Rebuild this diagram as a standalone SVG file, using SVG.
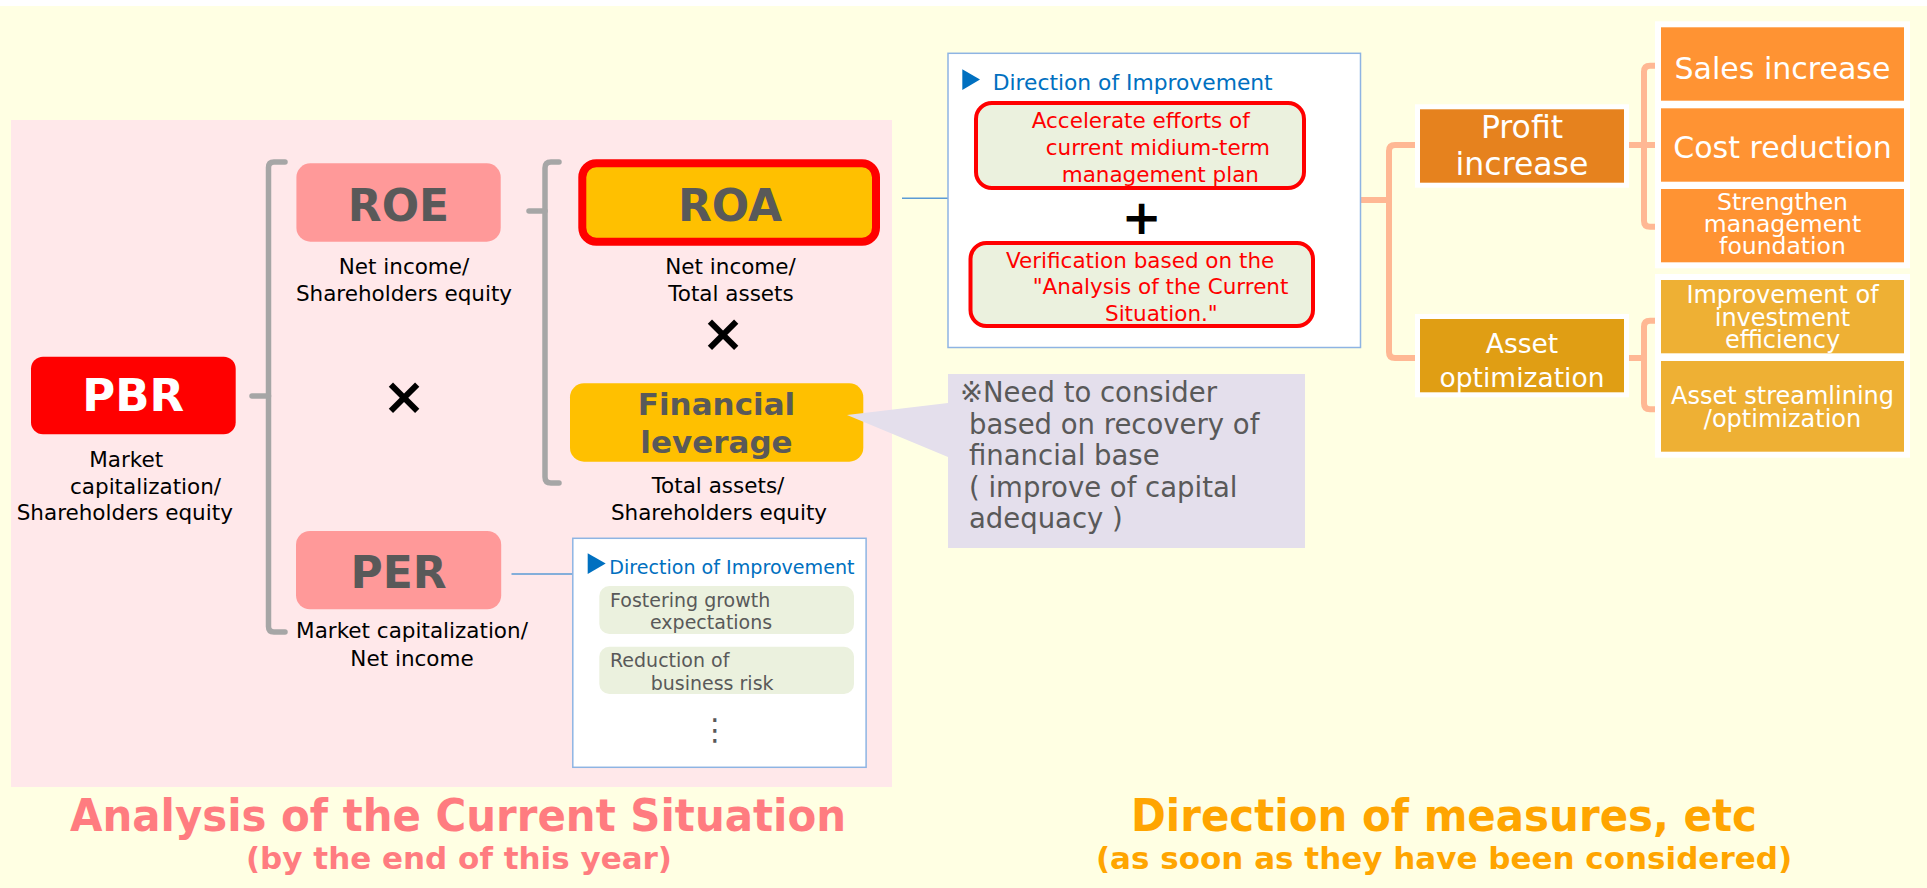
<svg xmlns="http://www.w3.org/2000/svg" width="1927" height="888" viewBox="0 0 1927 888">
<style>
text{font-family:"DejaVu Sans","Liberation Sans",sans-serif}
.lbl{font-size:21.5px;fill:#000}
.big{font-weight:bold;fill:#595959}
.brk{fill:none;stroke:#A6A6A6;stroke-width:5.5;stroke-linecap:round;stroke-linejoin:round}
.sal{fill:none;stroke:#FFB894;stroke-width:6;stroke-linecap:butt;stroke-linejoin:round}
.blu{fill:none;stroke:#5B9BD5;stroke-width:1.5}
.dirbox{fill:#fff;stroke:#8EB4E3;stroke-width:1.5}
.dirttl{fill:#0070C0}
.redbox{fill:#EBF1DE;stroke:#FF0000;stroke-width:4}
.redtx{fill:#FF0000;font-size:21.5px}
.grn{fill:#EBF1DE}
.grtx{fill:#595959;font-size:19px}
.wt{fill:#fff}
.wtx{fill:#fff;text-anchor:middle}
.op{font-weight:bold;fill:#000;text-anchor:middle}
</style>
<rect x="0" y="0" width="1927" height="888" fill="#fff"/>
<rect x="0" y="6" width="1927" height="882" fill="#FFFFE3"/>
<rect x="11" y="120" width="881" height="667" fill="#FFE8EA"/>

<g id="connectors">
  <path class="brk" d="M285 162 H274 Q268.5 162 268.5 167.5 V626.5 Q268.5 632 274 632 H285"/>
  <path class="brk" d="M252 396 H268.5"/>
  <path class="brk" d="M559 162 H551 Q545 162 545 168 V477 Q545 483 551 483 H559"/>
  <path class="brk" d="M529 211 H545"/>
  <path class="blu" d="M902 198.3 H948"/>
  <path class="blu" d="M511.5 574 H572.8"/>
  <path class="sal" d="M1361 200 H1389"/>
  <path class="sal" d="M1418 145 H1395 Q1389 145 1389 151 V352 Q1389 358 1395 358 H1418"/>
  <path class="sal" d="M1627 145 H1658"/>
  <path class="sal" d="M1658 65.7 H1650 Q1644 65.7 1644 71.7 V220.7 Q1644 226.7 1650 226.7 H1658"/>
  <path class="sal" d="M1627 358 H1644"/>
  <path class="sal" d="M1658 320.7 H1650 Q1644 320.7 1644 326.7 V403.3 Q1644 409.3 1650 409.3 H1658"/>
</g>

<g id="pbr">
  <rect x="31" y="356.7" width="204.7" height="77.6" rx="12" fill="#FF0000"/>
  <text x="133.3" y="411" text-anchor="middle" font-size="45" font-weight="bold" fill="#fff">PBR</text>
  <text class="lbl" x="89.3" y="467">Market</text>
  <text class="lbl" x="70" y="493.5">capitalization/</text>
  <text class="lbl" x="16.7" y="520">Shareholders equity</text>
</g>

<g id="roe">
  <rect x="296.4" y="163.3" width="204.3" height="78.4" rx="14" fill="#FF9999"/>
  <text class="big" x="398.5" y="220.7" text-anchor="middle" font-size="44">ROE</text>
  <text class="lbl" x="404" y="274" text-anchor="middle">Net income/</text>
  <text class="lbl" x="404" y="300.7" text-anchor="middle">Shareholders equity</text>
</g>

<g id="times1"><text class="op" x="404" y="414" font-size="52">×</text></g>

<g id="per">
  <rect x="296" y="531" width="205.2" height="78.3" rx="14" fill="#FF9999"/>
  <text class="big" x="398.6" y="588.3" text-anchor="middle" font-size="44">PER</text>
  <text class="lbl" x="412" y="638.3" text-anchor="middle">Market capitalization/</text>
  <text class="lbl" x="412" y="665.7" text-anchor="middle">Net income</text>
</g>

<g id="roa">
  <rect x="582.3" y="163.3" width="293.7" height="78.4" rx="14" fill="#FFC000" stroke="#FF0000" stroke-width="8"/>
  <text class="big" x="730" y="220.7" text-anchor="middle" font-size="44">ROA</text>
  <text class="lbl" x="730.5" y="274" text-anchor="middle">Net income/</text>
  <text class="lbl" x="731" y="300.7" text-anchor="middle">Total assets</text>
</g>

<g id="times2"><text class="op" x="723" y="351" font-size="52">×</text></g>

<g id="leverage">
  <rect x="570" y="383.3" width="293.3" height="78.4" rx="14" fill="#FFC000"/>
  <text class="big" x="716.5" y="415" text-anchor="middle" font-size="31">Financial</text>
  <text class="big" x="716.5" y="453" text-anchor="middle" font-size="31">leverage</text>
  <text class="lbl" x="718" y="493.3" text-anchor="middle">Total assets/</text>
  <text class="lbl" x="719" y="520" text-anchor="middle">Shareholders equity</text>
</g>

<g id="callout">
  <path d="M948 374 H1305 V548 H948 V457 L847 415 L948 403 Z" fill="#E4DFEC"/>
  <text x="960" y="402" font-size="27.5" fill="#595959">※Need to consider</text>
  <text x="969" y="433.5" font-size="27.5" fill="#595959">based on recovery of</text>
  <text x="969" y="465" font-size="27.5" fill="#595959">financial base</text>
  <text x="969" y="496.5" font-size="27.5" fill="#595959">( improve of capital</text>
  <text x="969" y="528" font-size="27.5" fill="#595959">adequacy )</text>
</g>

<g id="direction-roa">
  <rect class="dirbox" x="948" y="53.3" width="412.5" height="294.2"/>
  <path d="M962.3 69.3 L980 79.6 L962.3 90 Z" fill="#0070C0"/>
  <text class="dirttl" x="992.7" y="90" font-size="21.8">Direction of Improvement</text>
  <rect class="redbox" x="976" y="103" width="328" height="85" rx="16"/>
  <text class="redtx" x="1031.7" y="128.3">Accelerate efforts of</text>
  <text class="redtx" x="1045.7" y="155">current midium-term</text>
  <text class="redtx" x="1061.7" y="181.7">management plan</text>
  <text class="op" x="1141.7" y="234" font-size="48">+</text>
  <rect class="redbox" x="970.5" y="243" width="342.5" height="83" rx="16"/>
  <text class="redtx" x="1006" y="267.7">Verification based on the</text>
  <text class="redtx" x="1032.7" y="294">"Analysis of the Current</text>
  <text class="redtx" x="1105" y="320.7">Situation."</text>
</g>

<g id="direction-per">
  <rect class="dirbox" x="572.8" y="538.3" width="293.3" height="229"/>
  <path d="M587.7 553.3 L605.7 563.6 L587.7 574 Z" fill="#0070C0"/>
  <text class="dirttl" x="609.3" y="574" font-size="19.1">Direction of Improvement</text>
  <rect class="grn" x="599.3" y="586" width="254.7" height="48" rx="10"/>
  <text class="grtx" x="610" y="607.3">Fostering growth</text>
  <text class="grtx" x="650" y="629.3">expectations</text>
  <rect class="grn" x="599.3" y="646.7" width="254.7" height="47.3" rx="10"/>
  <text class="grtx" x="610" y="666.7">Reduction of</text>
  <text class="grtx" x="650.7" y="690">business risk</text>
  <text x="715" y="740" font-size="30" fill="#595959" text-anchor="middle">⋮</text>
</g>

<g id="profit">
  <rect class="wt" x="1415" y="104.3" width="214" height="83.4"/>
  <rect x="1420" y="109.3" width="204" height="73.4" fill="#E6821E"/>
  <text class="wtx" x="1522" y="138.3" font-size="31.5">Profit</text>
  <text class="wtx" x="1522" y="175" font-size="31.5">increase</text>
</g>

<g id="asset">
  <rect class="wt" x="1415" y="314" width="214" height="83.3"/>
  <rect x="1420" y="319" width="204" height="73.3" fill="#E09E14"/>
  <text class="wtx" x="1522" y="352.7" font-size="26.5">Asset</text>
  <text class="wtx" x="1522" y="386.7" font-size="26.5">optimization</text>
</g>

<g id="sales">
  <rect class="wt" x="1655" y="21.3" width="255" height="85.4"/>
  <rect x="1661" y="27.3" width="243" height="73.4" fill="#FF9333"/>
  <text class="wtx" x="1782.5" y="79.3" font-size="30">Sales increase</text>
</g>

<g id="cost">
  <rect class="wt" x="1655" y="102.3" width="255" height="85.4"/>
  <rect x="1661" y="108.3" width="243" height="73.4" fill="#FF9333"/>
  <text class="wtx" x="1782.5" y="158.3" font-size="30">Cost reduction</text>
</g>

<g id="strengthen">
  <rect class="wt" x="1655" y="183" width="255" height="85.3"/>
  <rect x="1661" y="189" width="243" height="73.3" fill="#FF9333"/>
  <text class="wtx" x="1782.5" y="210" font-size="23.5">Strengthen</text>
  <text class="wtx" x="1782.5" y="232.3" font-size="23.5">management</text>
  <text class="wtx" x="1782.5" y="254" font-size="23.5">foundation</text>
</g>

<g id="investment">
  <rect class="wt" x="1655" y="274" width="255" height="85.3"/>
  <rect x="1661" y="280" width="243" height="73.3" fill="#EEB034"/>
  <text class="wtx" x="1782.5" y="303.3" font-size="24">Improvement of</text>
  <text class="wtx" x="1782.5" y="326" font-size="24">investment</text>
  <text class="wtx" x="1782.5" y="348.3" font-size="24">efficiency</text>
</g>

<g id="streamlining">
  <rect class="wt" x="1655" y="355" width="255" height="102.7"/>
  <rect x="1661" y="361" width="243" height="90.7" fill="#EEB034"/>
  <text class="wtx" x="1782.5" y="404.3" font-size="24">Asset streamlining</text>
  <text class="wtx" x="1782.5" y="426.7" font-size="24">/optimization</text>
</g>

<g id="titles">
  <text x="458" y="831" text-anchor="middle" font-size="45" font-weight="bold" fill="#FF7C80" textLength="776" lengthAdjust="spacingAndGlyphs">Analysis of the Current Situation</text>
  <text x="459" y="869" text-anchor="middle" font-size="31" font-weight="bold" fill="#FF7C80">(by the end of this year)</text>
  <text x="1444" y="831" text-anchor="middle" font-size="45" font-weight="bold" fill="#FFA500" textLength="626" lengthAdjust="spacingAndGlyphs">Direction of measures, etc</text>
  <text x="1444" y="869" text-anchor="middle" font-size="31" font-weight="bold" fill="#FFA500">(as soon as they have been considered)</text>
</g>
</svg>
